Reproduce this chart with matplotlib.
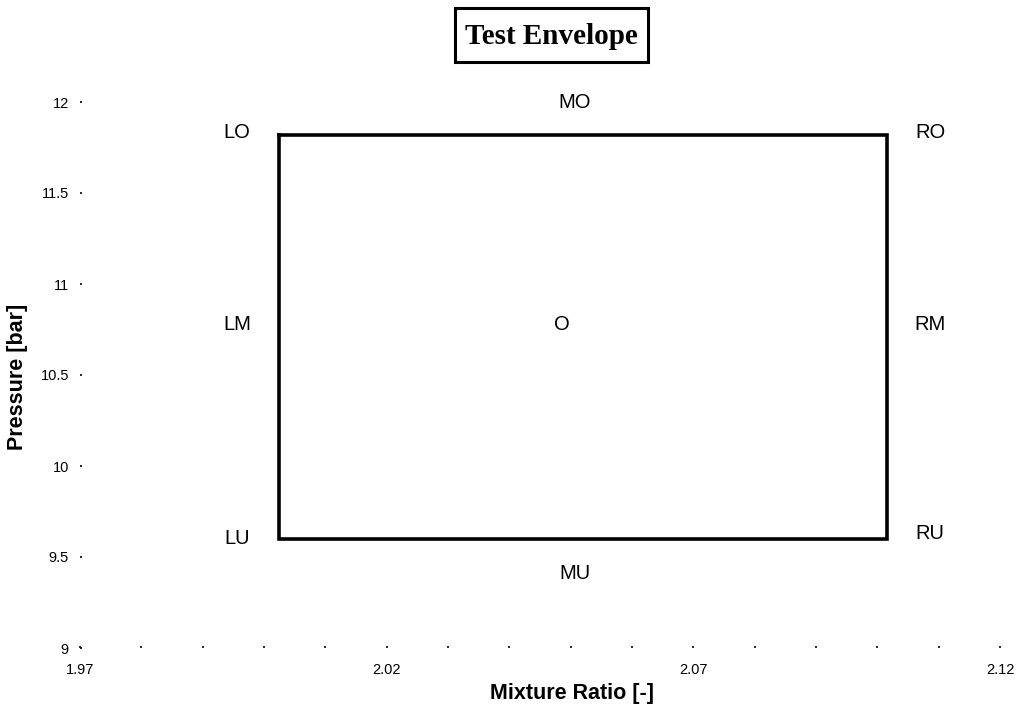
import matplotlib
matplotlib.use("Agg")
import matplotlib.pyplot as plt
from matplotlib.patches import Rectangle
from matplotlib.ticker import MultipleLocator, FixedLocator

# envelope corners (mixture ratio, pressure)
env_x = [2.0025, 2.1015, 2.1015, 2.0025, 2.0025]
env_y = [11.82, 11.82, 9.60, 9.60, 11.82]

# test point labels
point_names = ["LO", "MO", "RO", "LM", "O", "RM", "LU", "MU", "RU"]
point_x = [1.9956, 2.0507, 2.1086, 1.9956, 2.0486, 2.1086, 1.9956, 2.0507, 2.1086]
point_y = [11.835, 11.995, 11.835, 10.775, 10.775, 10.775, 9.604, 9.41, 9.63]

x_ticks = [1.97, 2.02, 2.07, 2.12]
x_ticklabels = ["1.97", "2.02", "2.07", "2.12"]
y_ticks = [9, 9.5, 10, 10.5, 11, 11.5, 12]
y_ticklabels = ["9", "9.5", "10", "10.5", "11", "11.5", "12"]

plt.rcParams["font.family"] = ["Liberation Sans", "DejaVu Sans"]

fig = plt.figure(figsize=(10.2, 7.15), dpi=100)
ax = fig.add_axes([80 / 1020, 1 - 648 / 715, 920 / 1020, 546 / 715])

ax.plot(env_x, env_y, color="black", lw=2.6, solid_joinstyle="miter")

for name, px, py in zip(point_names, point_x, point_y):
    ax.text(px, py, name, ha="center", va="center", fontsize=14.5)

ax.set_xlim(1.97, 2.12)
ax.set_ylim(9, 12)
for s in ax.spines.values():
    s.set_visible(False)

ax.xaxis.set_major_locator(FixedLocator(x_ticks))
ax.set_xticklabels(x_ticklabels)
ax.xaxis.set_minor_locator(MultipleLocator(0.01))
ax.set_yticks(y_ticks)
ax.set_yticklabels(y_ticklabels)
ax.tick_params(axis="both", which="both", length=1.5, width=1.2, direction="in",
               labelsize=10.5, color="black")
ax.tick_params(axis="x", pad=11)
ax.tick_params(axis="y", pad=8)

ax.set_xlabel("Mixture Ratio [-]", fontsize=15.5, fontweight="bold")
ax.xaxis.set_label_coords(0.535, -0.064)
ax.set_ylabel("Pressure [bar]", fontsize=15.5, fontweight="bold")
ax.yaxis.set_label_coords(-0.056, 0.496)

# title in a framed box
fig.patches.append(Rectangle((455 / 1020, 1 - 62 / 715), 193 / 1020, 54 / 715,
                             transform=fig.transFigure, facecolor="white",
                             edgecolor="black", linewidth=2.2))
fig.text(551 / 1020, 1 - 37 / 715, "Test Envelope", ha="center", va="center",
         fontsize=21, fontweight="bold", family="Liberation Serif")

fig.savefig("out.png", dpi=100)
